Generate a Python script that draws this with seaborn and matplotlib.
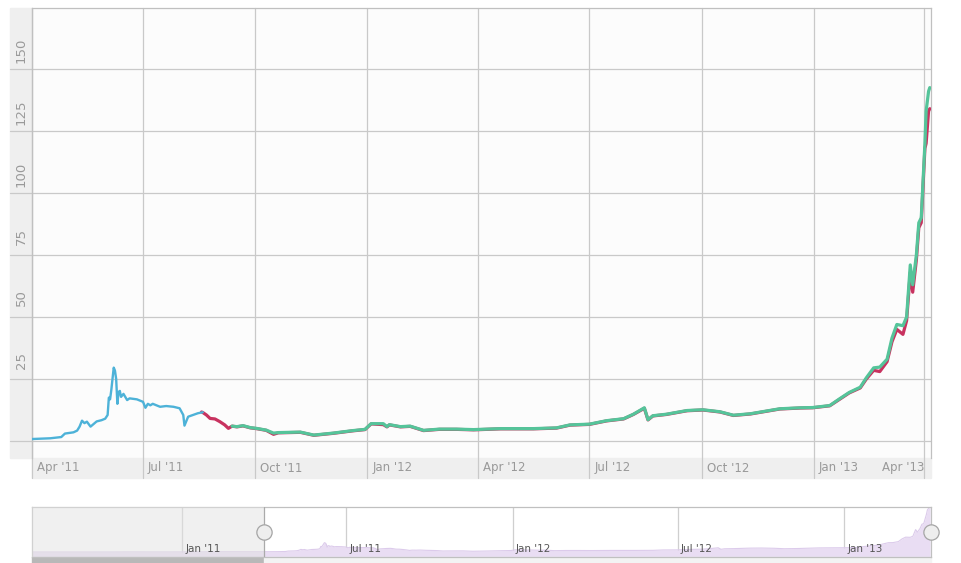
"""Gráfico do preço (estilo Highcharts stock) com navegador embaixo"""

import matplotlib
matplotlib.use("Agg")
import matplotlib.pyplot as plt
import matplotlib.dates as mdates
import matplotlib.transforms as mtransforms
from matplotlib.patches import Rectangle
import seaborn as sns
import pandas as pd

# ---- dados ----
blue_dates = ["2011-04-01", "2011-04-16", "2011-04-25", "2011-04-28", "2011-05-05",
              "2011-05-08", "2011-05-10", "2011-05-12", "2011-05-14", "2011-05-16",
              "2011-05-19", "2011-05-24", "2011-05-28", "2011-05-31", "2011-06-02",
              "2011-06-03", "2011-06-04", "2011-06-05", "2011-06-07", "2011-06-08",
              "2011-06-09", "2011-06-10", "2011-06-11", "2011-06-12", "2011-06-13",
              "2011-06-15", "2011-06-18", "2011-06-20", "2011-06-26", "2011-06-29",
              "2011-07-01", "2011-07-03", "2011-07-05", "2011-07-07", "2011-07-09",
              "2011-07-15", "2011-07-20", "2011-07-26", "2011-07-31", "2011-08-03",
              "2011-08-04", "2011-08-07", "2011-08-11", "2011-08-15", "2011-08-19"]
blue_values = [0.8, 1.1, 1.6, 3.0, 3.5,
               4.2, 5.8, 8.2, 7.2, 7.8,
               5.8, 7.9, 8.4, 9.0, 10.5,
               17.5, 16.8, 20.5, 29.6, 28.4,
               25.0, 15.0, 19.8, 20.2, 17.8,
               19.0, 16.5, 17.2, 16.8, 16.2,
               15.8, 13.4, 15.0, 14.4, 15.0,
               13.8, 14.1, 13.8, 13.2, 10.5,
               6.2, 9.8, 10.5, 11.2, 11.6]

green_dates = ["2011-09-12", "2011-09-16", "2011-09-21", "2011-09-27", "2011-10-02",
               "2011-10-10", "2011-10-16", "2011-10-20", "2011-11-07", "2011-11-18",
               "2011-12-04", "2011-12-20", "2011-12-30", "2012-01-04", "2012-01-14",
               "2012-01-17", "2012-01-19", "2012-01-28", "2012-02-05", "2012-02-16",
               "2012-02-29", "2012-03-14", "2012-03-28", "2012-04-19", "2012-05-16",
               "2012-06-04", "2012-06-15", "2012-07-01", "2012-07-15", "2012-07-29",
               "2012-08-06", "2012-08-15", "2012-08-18", "2012-08-22", "2012-09-02",
               "2012-09-19", "2012-10-02", "2012-10-16", "2012-10-27", "2012-11-10",
               "2012-12-04", "2012-12-21", "2012-12-31", "2013-01-14", "2013-01-22",
               "2013-01-30", "2013-02-08", "2013-02-13", "2013-02-19", "2013-02-24",
               "2013-03-02", "2013-03-06", "2013-03-10", "2013-03-15", "2013-03-18",
               "2013-03-21", "2013-03-23", "2013-03-26", "2013-03-28", "2013-03-30",
               "2013-04-02", "2013-04-03", "2013-04-05", "2013-04-06"]
green_values = [6.0, 5.8, 6.2, 5.4, 5.1,
                4.4, 3.2, 3.4, 3.6, 2.4,
                3.2, 4.2, 4.7, 7.0, 7.0,
                5.8, 6.6, 5.8, 6.0, 4.3,
                4.8, 4.8, 4.6, 5.0, 5.0,
                5.3, 6.5, 6.8, 8.2, 9.0,
                10.8, 13.4, 8.6, 10.2, 10.8,
                12.3, 12.6, 11.8, 10.4, 11.0,
                13.0, 13.4, 13.5, 14.3, 17.0,
                19.6, 21.7, 25.5, 29.5, 29.8,
                33.0, 41.5, 47.0, 46.5, 50.0,
                71.0, 63.0, 75.0, 88.0, 90.0,
                120.0, 133.0, 141.0, 142.5]

red_start_dates = ["2011-08-18", "2011-08-19", "2011-08-22", "2011-08-25",
                   "2011-08-29", "2011-09-02", "2011-09-06", "2011-09-09"]
red_start_values = [11.7, 11.5, 10.5, 9.1, 8.9, 7.8, 6.5, 5.1]
red_values = [6.0, 5.7, 6.1, 5.3, 5.0,
              4.3, 2.7, 3.3, 3.5, 2.3,
              3.1, 4.1, 4.6, 6.9, 6.6,
              5.7, 6.5, 5.7, 5.9, 4.2,
              4.7, 4.7, 4.5, 4.9, 4.9,
              5.2, 6.4, 6.7, 8.1, 8.9,
              10.7, 13.2, 8.5, 10.1, 10.7,
              12.2, 12.5, 11.7, 10.3, 10.9,
              12.9, 13.3, 13.4, 14.2, 16.8,
              19.4, 21.4, 25.0, 28.5, 28.0,
              32.0, 40.0, 45.0, 43.0, 48.5,
              68.0, 60.0, 73.0, 86.0, 88.0,
              118.0, 120.0, 133.0, 134.0]

# histórico anterior, só aparece no navegador
early_dates = ["2010-07-19", "2010-08-15", "2010-09-15", "2010-10-15", "2010-11-06",
               "2010-11-20", "2010-12-15", "2011-01-15", "2011-02-10", "2011-03-01",
               "2011-03-20"]
early_values = [0.05, 0.07, 0.06, 0.1, 0.39, 0.28, 0.25, 0.35, 1.0, 0.9, 0.8]

y_ticks = [0, 25, 50, 75, 100, 125, 150]
x_ticks = ["2011-04-01", "2011-07-01", "2011-10-01", "2012-01-01", "2012-04-01",
           "2012-07-01", "2012-10-01", "2013-01-01", "2013-04-01"]
x_labels = ["Apr '11", "Jul '11", "Oct '11", "Jan '12", "Apr '12",
            "Jul '12", "Oct '12", "Jan '13", "Apr '13"]
nav_ticks = ["2011-01-01", "2011-07-01", "2012-01-01", "2012-07-01", "2013-01-01"]
nav_labels = ["Jan '11", "Jul '11", "Jan '12", "Jul '12", "Jan '13"]

BLUE = "#4DB2D8"
RED = "#C8325F"
GREEN = "#55C49A"
GRID = "#C9C9C9"

sns.set_theme(style="white")
plt.rcParams['font.family'] = ['DejaVu Sans']

W, H = 961, 563


def fig_rect(x0, y0, x1, y1):
    """retângulo em pixels (origem no topo) -> fração da figura"""
    return [x0 / W, 1 - y1 / H, (x1 - x0) / W, (y1 - y0) / H]


def d2n(d):
    return mdates.date2num(pd.Timestamp(d))


fig = plt.figure(figsize=(W / 100, H / 100), dpi=100, facecolor="white")
ax = fig.add_axes(fig_rect(32, 8, 931, 458))
nav = fig.add_axes(fig_rect(32, 507, 931, 557))

# ---- gráfico principal ----
ax.set_facecolor("#FCFCFC")
red_x = [d2n(d) for d in red_start_dates + green_dates]
sns.lineplot(x=red_x, y=red_start_values + red_values, ax=ax, color=RED,
             linewidth=2.3, zorder=3)
sns.lineplot(x=[d2n(d) for d in blue_dates], y=blue_values, ax=ax, color=BLUE,
             linewidth=1.7, zorder=4)
sns.lineplot(x=[d2n(d) for d in green_dates], y=green_values, ax=ax, color=GREEN,
             linewidth=2.3, zorder=5)

x_left, x_right = d2n("2011-04-01"), d2n("2013-04-07")
ax.set_xlim(x_left, x_right)
ax.set_ylim(-6.85, 174.6)
ax.set_xticks([])
ax.set_yticks([])
ax.set_xlabel("")
ax.set_ylabel("")
for s in ["top", "right", "left"]:
    ax.spines[s].set_color("#C0C0C0")
    ax.spines[s].set_linewidth(0.9)
ax.spines["bottom"].set_visible(False)

ax_w, ax_h = 899, 450
# faixas cinzas dos eixos
ax.add_patch(Rectangle((-22 / ax_w, 0), 22 / ax_w, 1, transform=ax.transAxes,
                       color="#EFEFEF", clip_on=False, zorder=0.5))
ax.add_patch(Rectangle((0, -20 / ax_h), 1, 20 / ax_h, transform=ax.transAxes,
                       color="#EFEFEF", clip_on=False, zorder=0.5))

ty = mtransforms.blended_transform_factory(ax.transAxes, ax.transData)
tx = mtransforms.blended_transform_factory(ax.transData, ax.transAxes)
for v in y_ticks:
    ax.plot([-22 / ax_w, 1], [v, v], transform=ty, color=GRID, lw=0.9,
            clip_on=False, zorder=1)
    if v > 0:
        ax.annotate(str(v), xy=(0, v), xycoords=ty, xytext=(-10.5, 19),
                    textcoords="offset pixels", rotation=90, ha="center",
                    va="center", fontsize=9.5, color="#9A9A9A")

for d, lab in zip(x_ticks, x_labels):
    ax.plot([d2n(d)] * 2, [-20 / ax_h, 1], transform=tx, color=GRID, lw=0.9,
            clip_on=False, zorder=1)
    if lab == x_labels[-1]:
        ax.annotate(lab, xy=(d2n(d), 0), xycoords=tx, xytext=(1, -10),
                    textcoords="offset pixels", ha="right", va="center",
                    fontsize=8.5, color="#999999")
    else:
        ax.annotate(lab, xy=(d2n(d), 0), xycoords=tx, xytext=(5, -10),
                    textcoords="offset pixels", ha="left", va="center",
                    fontsize=8.5, color="#999999")

# ---- navegador ----
nav_df = pd.DataFrame({
    "date": pd.to_datetime(early_dates + blue_dates + red_start_dates[2:] + green_dates),
    "value": early_values + blue_values + red_start_values[2:] + green_values,
}).sort_values("date")
nav_x = mdates.date2num(nav_df["date"])
nav_min = -15.8
nav.set_facecolor("white")
nav.fill_between(nav_x, nav_df["value"], nav_min, color="#E9DDF3", lw=0, zorder=1)
sns.lineplot(x=nav_x, y=nav_df["value"].values, ax=nav, color="#DCCBEB",
             linewidth=0.8, zorder=2)
nav_left = d2n("2010-07-19")
nav.set_xlim(nav_left, x_right)
nav.set_ylim(nav_min, 142.5)
nav.set_xticks([])
nav.set_yticks([])
nav.set_xlabel("")
nav.set_ylabel("")
for s in nav.spines.values():
    s.set_color("#C0C0C0")
    s.set_linewidth(0.9)

ntx = mtransforms.blended_transform_factory(nav.transData, nav.transAxes)
for d, lab in zip(nav_ticks, nav_labels):
    nav.axvline(d2n(d), color="#CFCFCF", lw=0.9, zorder=0.8)
    nav.annotate(lab, xy=(d2n(d), 0), xycoords=ntx, xytext=(3, 8),
                 textcoords="offset pixels", ha="left", va="center",
                 fontsize=7.5, color="#555555", zorder=6)

# área fora da seleção
nav.axvspan(nav_left, x_left, color="#E2E2E2", alpha=0.5, lw=0, zorder=3)
nav.axvline(x_left, color="#AAAAAA", lw=0.9, zorder=4)
nav.plot([x_left, x_right], [0.5, 0.5], transform=ntx, ls="none", marker="o",
         ms=11, mfc="#EEEEEE", mec="#A5A5A5", mew=0.9, clip_on=False, zorder=7)

# barra de rolagem
sel = (x_left - nav_left) / (x_right - nav_left)
nav.add_patch(Rectangle((0, -6 / 50), sel, 6 / 50, transform=nav.transAxes,
                        color="#B8B8B8", clip_on=False, zorder=2))
nav.add_patch(Rectangle((sel, -6 / 50), 1 - sel, 6 / 50, transform=nav.transAxes,
                        color="#F3F3F3", clip_on=False, zorder=2))

fig.savefig("out.png", dpi=100)
